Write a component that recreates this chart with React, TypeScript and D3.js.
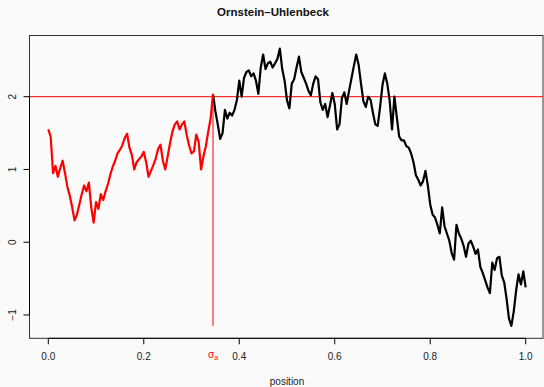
import React from "react";
import * as d3 from "d3";

// Simulated Ornstein–Uhlenbeck path, sampled on an even grid over [0, 1]
const pathValues: number[] = [
  1.55, 1.45, 0.95, 1.05, 0.9, 1.02, 1.12, 0.95, 0.76, 0.64,
  0.48, 0.3, 0.38, 0.52, 0.66, 0.78, 0.7, 0.82, 0.48, 0.27,
  0.55, 0.46, 0.66, 0.58, 0.7, 0.8, 0.93, 1.04, 1.12, 1.22,
  1.27, 1.33, 1.43, 1.49, 1.3, 1.2, 1.0, 1.1, 1.14, 1.18,
  1.24, 1.1, 0.9, 0.98, 1.06, 1.15, 1.28, 1.34, 1.12, 1.0,
  1.18, 1.36, 1.52, 1.62, 1.66, 1.55, 1.62, 1.66, 1.47, 1.33,
  1.22, 1.25, 1.48, 1.38, 1.0, 1.18, 1.32, 1.52, 1.7, 2.04,
  1.8, 1.62, 1.42, 1.5, 1.82, 1.7, 1.78, 1.74, 1.82, 1.95,
  2.22, 2.0, 2.26, 2.34, 2.36, 2.28, 2.32, 2.22, 2.04, 2.4,
  2.58, 2.38, 2.46, 2.48, 2.4, 2.46, 2.52, 2.66, 2.38, 2.22,
  1.95, 1.84, 2.18, 2.24, 2.4, 2.55, 2.34, 2.26, 2.18, 2.08,
  2.02, 2.18, 2.28, 2.24, 1.92, 1.82, 1.9, 1.72, 1.88, 2.05,
  1.9, 1.55, 1.62, 1.98, 2.06, 1.9, 2.08, 2.25, 2.42, 2.58,
  2.44, 2.18, 1.94, 1.86, 2.0, 1.96, 1.78, 1.62, 1.6, 1.86,
  2.16, 2.32, 2.18, 1.95, 1.55, 2.0, 1.72, 1.45, 1.4, 1.4,
  1.32, 1.3, 1.22, 1.1, 0.92, 0.86, 0.78, 0.84, 0.98, 0.78,
  0.52, 0.38, 0.34, 0.24, 0.12, 0.48, 0.22, 0.12, 0.02, -0.15,
  -0.24, 0.24, 0.12, 0.05, -0.05, -0.2, -0.02, 0.02, -0.06, -0.16,
  -0.1, -0.34, -0.42, -0.52, -0.62, -0.7, -0.28, -0.38, -0.22, -0.2,
  -0.46, -0.55, -0.78, -1.05, -1.15, -0.95, -0.66, -0.44, -0.58, -0.4,
  -0.62,
];

// First passage time of level 2
const sigmaA = 0.345;
const level = 2;

const xTicks = [0, 0.2, 0.4, 0.6, 0.8, 1.0];
const xTickLabels = ["0.0", "0.2", "0.4", "0.6", "0.8", "1.0"];
const yTicks = [-1, 0, 1, 2];
const yTickLabels = ["\u22121", "0", "1", "2"];

const title = "Ornstein\u2013Uhlenbeck";
const xLabel = "position";

const W = 544;
const H = 387;
const plot = { left: 29.5, right: 543, top: 35.5, bottom: 338.3 };

export default function App() {
  const n = pathValues.length;
  const points = pathValues.map((v, i) => ({ t: i / (n - 1), v }));

  const x = d3.scaleLinear().domain([0, 1]).range([48.3, 525.7]);
  const y = d3.scaleLinear().domain([-1, 2]).range([315, 96.7]);

  const line = d3
    .line<{ t: number; v: number }>()
    .x((d) => x(d.t))
    .y((d) => y(d.v));

  const redPts = points.filter((p) => p.t <= sigmaA + 1e-9);
  const blackPts = points.filter((p) => p.t >= sigmaA - 1e-9);
  const minV = d3.min(pathValues) as number;

  const font = "'Liberation Sans', Arial, Helvetica, sans-serif";

  return (
    <svg
      width={W}
      height={H}
      style={{ position: "absolute", left: 0, top: 0, background: "#fafafa" }}
      fontFamily={font}
    >
      <rect x={0} y={0} width={W} height={H} fill="#fafafa" />
      <text x={W / 2 + 1} y={16} textAnchor="middle" fontSize={11.5} fontWeight="bold" fill="#111">
        {title}
      </text>

      {/* level line */}
      <line x1={plot.left} x2={plot.right} y1={y(level)} y2={y(level)} stroke="#ff0000" strokeWidth={1} />

      <path d={line(blackPts) ?? ""} fill="none" stroke="#000" strokeWidth={2.2} strokeLinejoin="round" />
      <path d={line(redPts) ?? ""} fill="none" stroke="#ff0000" strokeWidth={2.2} strokeLinejoin="round" />

      {/* stopping time marker */}
      <line x1={x(sigmaA)} x2={x(sigmaA)} y1={y(level)} y2={y(minV)} stroke="#ff0000" strokeWidth={1} />

      {/* frame */}
      <rect
        x={plot.left}
        y={plot.top}
        width={plot.right - plot.left}
        height={plot.bottom - plot.top}
        fill="none"
        stroke="#333"
        strokeWidth={1}
      />

      {/* x axis */}
      <line x1={x(0)} x2={x(1)} y1={plot.bottom} y2={plot.bottom} stroke="#000" />
      {xTicks.map((t, i) => (
        <g key={t}>
          <line x1={x(t)} x2={x(t)} y1={plot.bottom} y2={plot.bottom + 6} stroke="#000" />
          <text x={x(t)} y={359.5} textAnchor="middle" fontSize={10} fill="#222">
            {xTickLabels[i]}
          </text>
        </g>
      ))}
      <text x={x(sigmaA)} y={358} textAnchor="middle" fontSize={10} fill="#ff0000">
        σ<tspan fontSize={7} dy={2}>a</tspan>
      </text>
      <text x={x(0.5)} y={384.5} textAnchor="middle" fontSize={10} fill="#222">
        {xLabel}
      </text>

      {/* y axis */}
      <line x1={plot.left} x2={plot.left} y1={y(-1)} y2={y(2)} stroke="#000" />
      {yTicks.map((t, i) => (
        <g key={t}>
          <line x1={plot.left - 6} x2={plot.left} y1={y(t)} y2={y(t)} stroke="#000" />
          <text
            transform={`translate(${15.5},${y(t)}) rotate(-90)`}
            textAnchor="middle"
            fontSize={10}
            fill="#222"
          >
            {yTickLabels[i]}
          </text>
        </g>
      ))}
    </svg>
  );
}
